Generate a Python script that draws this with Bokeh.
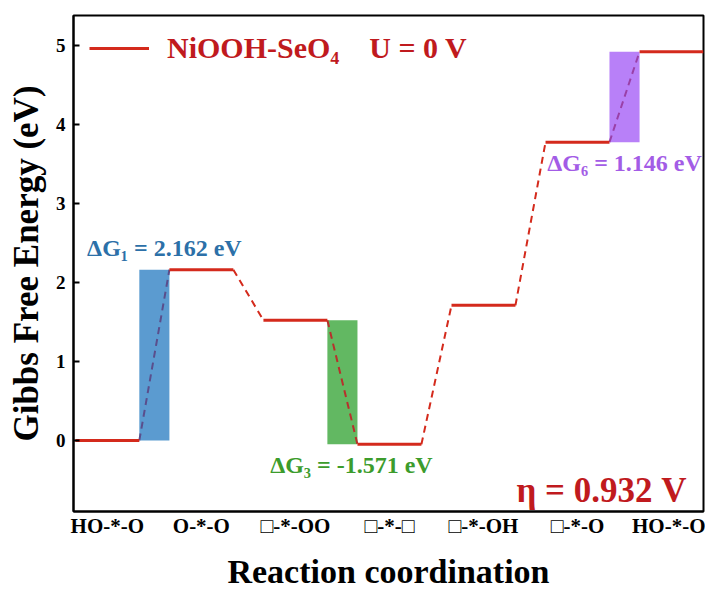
from bokeh.plotting import figure
from bokeh.models import Range1d, FixedTicker, Label, Legend, LegendItem
from bokeh.embed import file_html
from bokeh.resources import INLINE

# ---- data ----
states = ["HO-*-O", "O-*-O", "\u25a1-*-OO", "\u25a1-*-\u25a1", "\u25a1-*-OH", "\u25a1-*-O", "HO-*-O"]
energies = [0.0, 2.162, 1.521, -0.050, 1.710, 3.776, 4.922]
highlight_steps = [0, 2, 5]
highlight_fill = ["#5b9bd0", "#62b862", "#b880f8"]
highlight_dash = ["#5a4e8c", "#b8302c", "#9a40a8"]
highlight_text = ["\u0394G\u2081 = 2.162 eV", "\u0394G\u2083 = -1.571 eV", "\u0394G\u2086 = 1.146 eV"]
highlight_text_color = ["#2c70a8", "#3c9c2c", "#a35ce6"]
eta_text = "\u03b7 = 0.932 V"
legend_text = "NiOOH-SeO\u2084    U = 0 V"
y_ticks = [0, 1, 2, 3, 4, 5]

SEG = 0.68
FONT = "Liberation Serif"
RED = "#d42a1c"
TXTRED = "#c01a1e"

p = figure(width=705, height=592, output_backend="svg", toolbar_location=None,
           x_range=Range1d(-0.02, 6.68), y_range=Range1d(-0.90, 5.38),
           min_border_left=73, min_border_right=2, min_border_top=15, min_border_bottom=81)
p.xgrid.visible = False
p.ygrid.visible = False
p.outline_line_color = "black"
p.outline_line_width = 2
p.background_fill_color = "white"
p.border_fill_color = "white"

n = len(energies)
xs0 = [i for i in range(n)]
xs1 = [i + SEG for i in range(n)]

# highlight rectangles
for k, step in enumerate(highlight_steps):
    a, b = energies[step], energies[step + 1]
    p.quad(left=step + SEG, right=step + 1, bottom=min(a, b), top=max(a, b),
           fill_color=highlight_fill[k], line_color=None)

# connectors
for i in range(n - 1):
    col = RED
    if i in highlight_steps:
        col = highlight_dash[highlight_steps.index(i)]
    p.line([i + SEG, i + 1], [energies[i], energies[i + 1]], line_color=col,
           line_width=2, line_dash="7 5")

lev = p.segment(x0=xs0, y0=energies, x1=xs1, y1=energies, line_color=RED, line_width=3)

# annotations for highlighted steps
offsets = [(10, 9, "bottom"), (9, -8, "top"), (0, -8, "top")]
for k, step in enumerate(highlight_steps):
    a, b = energies[step], energies[step + 1]
    xo, yo, base = offsets[k]
    yref = max(a, b) if base == "bottom" else min(a, b)
    p.add_layout(Label(x=step + (SEG + 1) / 2, y=yref, x_offset=xo, y_offset=yo,
                       text=highlight_text[k], text_align="center", text_baseline=base,
                       text_font=FONT, text_font_style="bold", text_font_size="24px",
                       text_color=highlight_text_color[k]))

p.add_layout(Label(x=613, y=21, x_units="screen", y_units="screen", text=eta_text,
                   text_align="right", text_baseline="alphabetic", text_font=FONT,
                   text_font_style="bold", text_font_size="35px", text_color=TXTRED))

legend = Legend(items=[LegendItem(label=legend_text, renderers=[lev])], location="top_left",
                margin=16, padding=0, glyph_width=60, glyph_height=30, label_height=30,
                label_standoff=18, label_text_font=FONT, label_text_font_style="bold",
                label_text_font_size="30px", label_text_color=TXTRED,
                background_fill_alpha=0, border_line_color=None)
p.add_layout(legend)

# axes
p.yaxis.ticker = FixedTicker(ticks=y_ticks)
p.yaxis.major_tick_in = 6
p.yaxis.major_tick_out = 0
p.yaxis.minor_tick_line_color = None
p.yaxis.minor_tick_in = 0
p.yaxis.minor_tick_out = 0
p.yaxis.major_tick_line_width = 2
p.yaxis.axis_line_width = 2
p.yaxis.major_label_text_font = FONT
p.yaxis.major_label_text_font_style = "bold"
p.yaxis.major_label_text_font_size = "19px"
p.yaxis.major_label_text_color = "black"
p.yaxis.major_label_standoff = 8
p.yaxis.axis_label = "Gibbs Free Energy (eV)"
p.yaxis.axis_label_text_font = FONT
p.yaxis.axis_label_text_font_style = "bold"
p.yaxis.axis_label_text_font_size = "35px"
p.yaxis.axis_label_text_color = "black"
p.yaxis.axis_label_standoff = 7

centers = [i + SEG / 2 for i in range(n)]
p.xaxis.ticker = FixedTicker(ticks=centers)
p.xaxis.major_label_overrides = {c: s for c, s in zip(centers, states)}
p.xaxis.major_tick_line_color = None
p.xaxis.major_tick_in = 0
p.xaxis.major_tick_out = 0
p.xaxis.minor_tick_line_color = None
p.xaxis.minor_tick_in = 0
p.xaxis.minor_tick_out = 0
p.xaxis.axis_line_width = 2
p.xaxis.major_label_text_font = FONT
p.xaxis.major_label_text_font_style = "bold"
p.xaxis.major_label_text_font_size = "21px"
p.xaxis.major_label_text_color = "black"
p.xaxis.major_label_standoff = 2
p.xaxis.axis_label = "Reaction coordination"
p.xaxis.axis_label_text_font = FONT
p.xaxis.axis_label_text_font_style = "bold"
p.xaxis.axis_label_text_font_size = "34px"
p.xaxis.axis_label_text_color = "black"
p.xaxis.axis_label_standoff = 12

open("out.html", "w").write(file_html(p, INLINE))
